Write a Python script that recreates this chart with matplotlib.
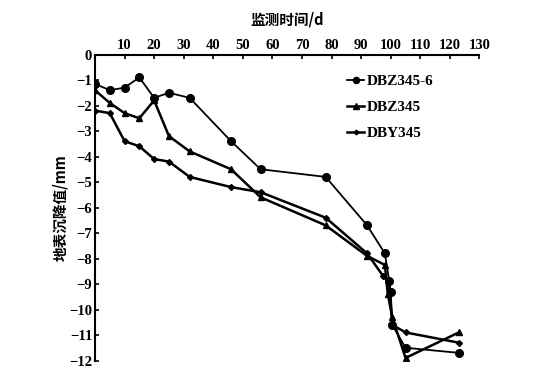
import matplotlib
matplotlib.use("Agg")
import matplotlib.pyplot as plt

days_a = [0, 5, 10, 15, 20, 25, 32, 46, 56, 78, 92, 98, 99.5, 100, 100.5, 105, 123]
vals_a = [-1.15, -1.4, -1.3, -0.9, -1.7, -1.5, -1.7, -3.4, -4.5, -4.8, -6.7, -7.8, -8.9, -9.3, -10.6, -11.5, -11.7]

days_b = [0, 5, 10, 15, 20, 25, 32, 46, 56, 78, 92, 98, 99, 100.5, 105, 123]
vals_b = [-1.4, -1.9, -2.3, -2.5, -1.8, -3.2, -3.8, -4.5, -5.6, -6.7, -7.9, -8.25, -9.4, -10.3, -11.9, -10.9]

days_c = [0, 5, 10, 15, 20, 25, 32, 46, 56, 78, 92, 97.5, 99, 99.7, 100.5, 105, 123]
vals_c = [-2.2, -2.3, -3.4, -3.6, -4.1, -4.2, -4.8, -5.2, -5.4, -6.4, -7.8, -8.7, -8.9, -9.3, -10.6, -10.9, -11.3]

names = ["DBZ345-6", "DBZ345", "DBY345"]
xticks = list(range(10, 131, 10))
yticks = list(range(0, -13, -1))

serif = ["Liberation Serif", "DejaVu Serif"]
cjk = ["Noto Sans CJK SC", "DejaVu Sans"]

fig = plt.figure(figsize=(5.5, 3.79), dpi=100)
ax = fig.add_axes([0.1727, 0.0488, 0.6991, 0.8074])

ax.plot(days_a, vals_a, color="black", lw=1.3, marker="o", ms=5.5, label=names[0])
ax.plot(days_b, vals_b, color="black", lw=1.8, marker="^", ms=5, label=names[1])
ax.plot(days_c, vals_c, color="black", lw=1.8, marker="D", ms=3, label=names[2])

ax.set_xlim(0, 130)
ax.set_ylim(-12, 0)
ax.xaxis.tick_top()
ax.xaxis.set_label_position("top")
ax.set_xticks(xticks)
ax.set_yticks(yticks)
ax.tick_params(direction="in", length=3, width=1.2, labelsize=10.5, pad=2)
for lab in ax.get_xticklabels() + ax.get_yticklabels():
    lab.set_fontfamily(serif)
    lab.set_fontweight("bold")
for s in ["right", "bottom"]:
    ax.spines[s].set_visible(False)
for s in ["left", "top"]:
    ax.spines[s].set_linewidth(1.5)

ax.set_xlabel("监测时间/d", family=cjk, fontsize=10.5, fontweight="bold", labelpad=10)
ax.set_ylabel("地表沉降值/mm", family=cjk, fontsize=10.5, fontweight="bold", labelpad=1)

leg = ax.legend(loc="upper left", bbox_to_anchor=(0.62, 0.98), frameon=False,
                handlelength=1.1, handletextpad=0.2, labelspacing=0.8, markerscale=0.8,
                prop={"family": serif, "size": 11, "weight": "bold"})

fig.savefig("out.png", dpi=100)
